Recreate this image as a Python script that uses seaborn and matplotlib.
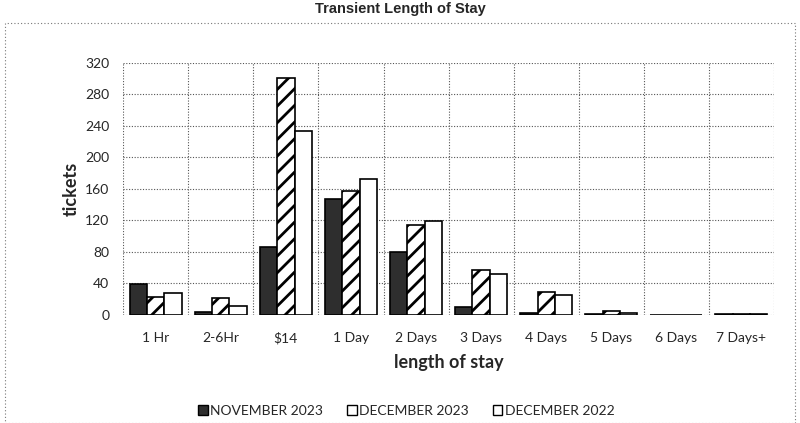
import matplotlib
matplotlib.use("Agg")
import matplotlib.pyplot as plt
import seaborn as sns
import pandas as pd
from matplotlib.patches import Rectangle, Patch

categories = ["1 Hr", "2-6Hr", "$14", "1 Day", "2 Days", "3 Days", "4 Days", "5 Days", "6 Days", "7 Days+"]
nov_2023 = [39, 4, 86, 147, 80, 10, 2, 1, 0, 1]
dec_2023 = [23, 21, 300, 157, 114, 57, 29, 5, 0, 1]
dec_2022 = [28, 12, 233, 173, 119, 52, 25, 2, 0, 1]
series_names = ["NOVEMBER 2023", "DECEMBER 2023", "DECEMBER 2022"]
y_ticks = [0, 40, 80, 120, 160, 200, 240, 280, 320]

rows = []
for name, vals in zip(series_names, [nov_2023, dec_2023, dec_2022]):
    for c, v in zip(categories, vals):
        rows.append({"length of stay": c, "tickets": v, "series": name})
df = pd.DataFrame(rows)

sns.set_theme(style="white")
plt.rcParams["font.family"] = ["Lato", "DejaVu Sans"]
plt.rcParams["hatch.linewidth"] = 2.0

fig = plt.figure(figsize=(8, 4.23), dpi=100)
ax = fig.add_axes([0.154, 0.2553, 0.8135, 0.5965])

palette = {"NOVEMBER 2023": "#2e2e2e", "DECEMBER 2023": "white", "DECEMBER 2022": "white"}
sns.barplot(data=df, x="length of stay", y="tickets", hue="series", order=categories,
            hue_order=series_names, palette=palette, width=0.8, edgecolor="black",
            linewidth=1.2, ax=ax, legend=False, saturation=1)

hatches = {"NOVEMBER 2023": "", "DECEMBER 2023": "//", "DECEMBER 2022": ""}
for cont, name in zip(ax.containers, series_names):
    for bar in cont:
        bar.set_hatch(hatches[name])
        bar.set_edgecolor("black")

ax.set_ylim(0, 320)
ax.set_xlim(-0.5, len(categories) - 0.5)
ax.set_yticks(y_ticks)
ax.set_yticklabels([str(t) for t in y_ticks], fontsize=10)
ax.tick_params(axis="x", labelsize=10, pad=12, length=0)
ax.tick_params(axis="y", pad=10, length=0)
for s in ax.spines.values():
    s.set_visible(False)

for t in y_ticks:
    ax.axhline(t, color="#555555", linestyle=(0, (1, 1.5)), linewidth=0.8, zorder=0)
for i in range(len(categories) + 1):
    ax.axvline(i - 0.5, color="#555555", linestyle=(0, (1, 1.5)), linewidth=0.8, zorder=0)

ax.set_xlabel("length of stay", fontsize=13, fontweight="bold", labelpad=7)
ax.set_ylabel("tickets", fontsize=13, fontweight="bold", labelpad=4)

fig.text(0.5, 0.978, "Transient Length of Stay", ha="center", va="center",
         family=["Liberation Sans", "DejaVu Sans"], fontsize=10.5, fontweight="bold")

fig.patches.append(Rectangle((0.006, 0.0), 0.988, 0.945, transform=fig.transFigure,
                             fill=False, edgecolor="#777777", linestyle=(0, (1, 2)),
                             linewidth=0.8))

handles = [Patch(facecolor="#2e2e2e", edgecolor="black"),
           Patch(facecolor="white", edgecolor="black"),
           Patch(facecolor="white", edgecolor="black")]
fig.legend(handles, series_names, loc="center", bbox_to_anchor=(0.508, 0.028), ncol=3,
           frameon=False, fontsize=10, handlelength=0.7, handleheight=0.7,
           handletextpad=0.2, columnspacing=1.7)

fig.savefig("out.png", dpi=100)
